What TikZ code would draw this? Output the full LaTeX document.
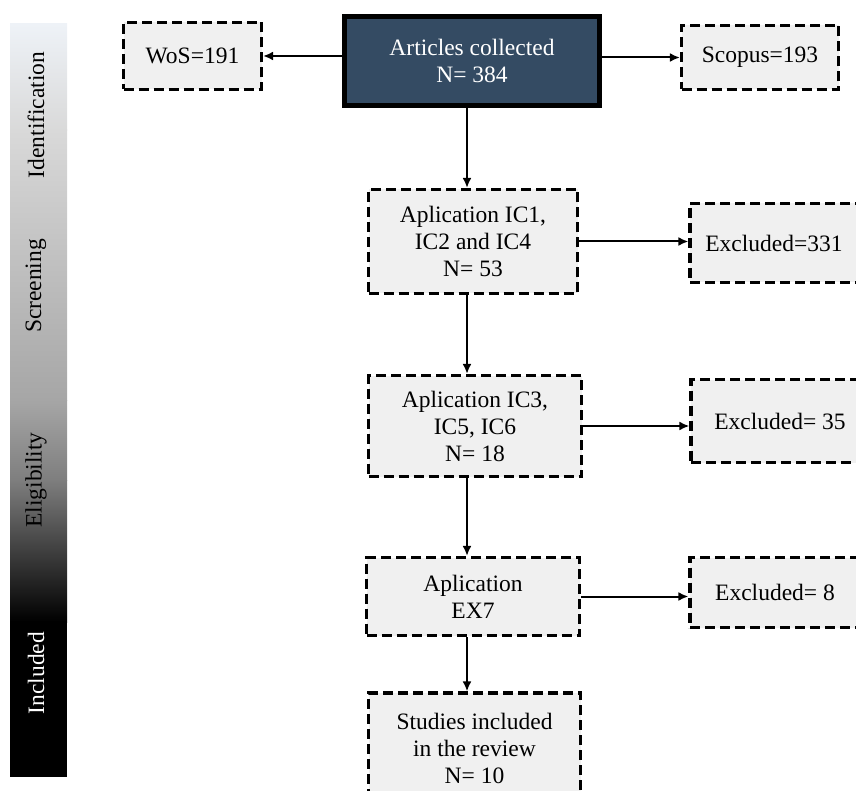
\documentclass[tikz,border=0pt]{standalone}
\usepackage{fontspec}
\setmainfont{Liberation Serif}
\usetikzlibrary{arrows.meta}
\definecolor{boxfill}{HTML}{F0F0F0}
\definecolor{navy}{HTML}{344B63}
\definecolor{bartop}{HTML}{EEF2F7}
\definecolor{barmid}{HTML}{D9D9D9}
\definecolor{bargray}{HTML}{A6A6A6}
\definecolor{bardark}{HTML}{7E7E7E}
\begin{document}
\begin{tikzpicture}[x=1pt,y=-1pt,
  txt/.style={font=\fontsize{23.5}{27}\selectfont, align=center, text=black},
  dbox/.style={txt, draw=black, fill=boxfill, line width=3.2pt,
    dash pattern=on 10pt off 5pt, inner sep=0pt, anchor=center},
  mainbox/.style={txt, text=white, draw=black, fill=navy, line width=5pt,
    inner sep=0pt, anchor=center},
  arr/.style={line width=2pt, -{Latex[length=10pt,width=9pt]}},
  side/.style={font=\fontsize{23.5}{26}\selectfont, rotate=90, anchor=center}]
\useasboundingbox (0,0) rectangle (856,791);
\clip (0,0) rectangle (856,791);
% side bar
\shade[top color=bartop, bottom color=barmid] (10,24) rectangle (67,130.5);
\shade[top color=barmid, bottom color=bargray] (10,130) rectangle (67,400.5);
\shade[top color=bargray, bottom color=bardark] (10,400) rectangle (67,480.5);
\shade[top color=bardark, bottom color=black] (10,480) rectangle (67,622);
\fill[black] (10,621) rectangle (67,777);
\node[side] (lid) at (36,115) {Identification};
\node[side] (lsc) at (36,286) {Screening};
\node[side] (lel) at (36,480) {Eligibility};
\node[side, text=white] (lin) at (36,673) {Included};
% boxes
\node[mainbox, minimum width=255pt, minimum height=89pt] (art) at (472,61) {Articles collected\\N= 384};
\node[dbox, minimum width=138pt, minimum height=67pt] (wos) at (192.5,56) {WoS=191};
\node[dbox, minimum width=157pt, minimum height=64pt] (sco) at (760,57.5) {Scopus=193};
\node[dbox, minimum width=209pt, minimum height=104pt] (a1) at (473,241.5) {Aplication IC1,\\IC2 and IC4\\N= 53};
\node[dbox, minimum width=168pt, minimum height=79pt] (e1) at (774,243) {Excluded=331};
\node[dbox, minimum width=213pt, minimum height=101pt] (a2) at (475,426) {Aplication IC3,\\IC5, IC6\\N= 18};
\node[dbox, minimum width=178pt, minimum height=83pt] (e2) at (780,421) {Excluded= 35};
\node[dbox, minimum width=213pt, minimum height=78pt] (a3) at (473,596.5) {Aplication\\EX7};
\node[dbox, minimum width=170pt, minimum height=70pt] (e3) at (775,592.5) {Excluded= 8};
\node[dbox, minimum width=212pt, minimum height=110pt] (a4) at (474.5,748) {Studies included\\in the review\\N= 10};
\coordinate (spine) at (467,0);
% connectors
\draw[arr] (art.west |- wos.east) -- (wos.east);
\draw[arr] (art.east |- sco.west) -- (sco.west);
\draw[arr] (spine |- art.south) -- (spine |- a1.north);
\draw[arr] (a1.east) -- (e1.west |- a1.east);
\draw[arr] (spine |- a1.south) -- (spine |- a2.north);
\draw[arr] (a2.east) -- (e2.west |- a2.east);
\draw[arr] (spine |- a2.south) -- (spine |- a3.north);
\draw[arr] (a3.east) -- (e3.west |- a3.east);
\draw[arr] (spine |- a3.south) -- (spine |- a4.north);
\end{tikzpicture}
\end{document}
